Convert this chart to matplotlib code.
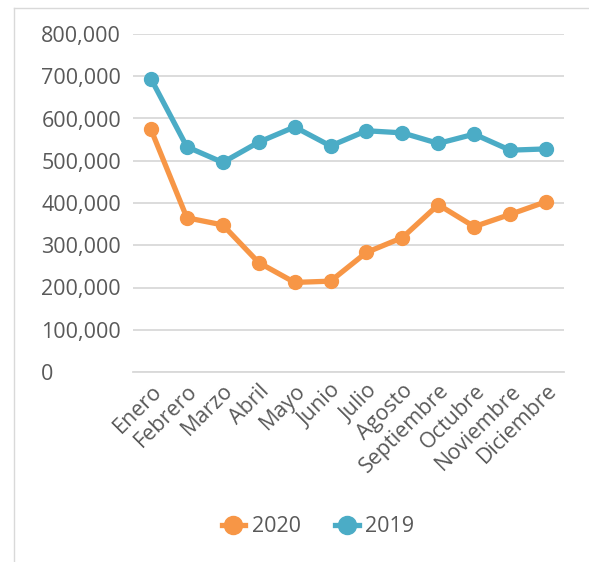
import matplotlib
matplotlib.use("Agg")
import matplotlib.pyplot as plt
from matplotlib.lines import Line2D
from matplotlib.ticker import FuncFormatter

plt.rcParams["font.family"] = ["Open Sans", "DejaVu Sans"]

meses = ["Enero", "Febrero", "Marzo", "Abril", "Mayo", "Junio", "Julio",
         "Agosto", "Septiembre", "Octubre", "Noviembre", "Diciembre"]
v2020 = [574000, 365000, 348000, 259000, 212000, 215000, 283000,
         318000, 396000, 344000, 373000, 403000]
v2019 = [694000, 533000, 496000, 544000, 580000, 535000, 571000,
         566000, 541000, 563000, 525000, 528000]

NARANJA = "#F79646"
AZUL = "#4BACC6"
GRIS = "#595959"

fig = plt.figure(figsize=(5.89, 5.62), dpi=100)
ax = fig.add_axes([133 / 589, 1 - 372 / 562, (564 - 133) / 589, (372 - 34) / 562])

x = range(len(meses))
ax.plot(x, v2020, color=NARANJA, lw=3.8, marker="o", ms=10, label="2020", zorder=3)
ax.plot(x, v2019, color=AZUL, lw=3.8, marker="o", ms=10, label="2019", zorder=3)

ax.set_xlim(-0.5, len(meses) - 0.5)
ax.set_ylim(0, 800000)
ax.set_yticks(range(0, 800001, 100000))
ax.yaxis.set_major_formatter(FuncFormatter(lambda v, p: f"{int(v):,}"))
ax.grid(axis="y", color="#d9d9d9", lw=1.3)
ax.set_axisbelow(True)
for s in ["top", "right", "left"]:
    ax.spines[s].set_visible(False)
ax.spines["bottom"].set_color("#d9d9d9")
ax.spines["bottom"].set_linewidth(1.3)
ax.tick_params(axis="both", length=0, colors=GRIS, labelsize=15.5)
ax.tick_params(axis="x", pad=6)
ax.set_xticks(list(x))
ax.set_xticklabels(meses, rotation=45, ha="right", rotation_mode="anchor")
for lbl in ax.get_yticklabels():
    lbl.set_horizontalalignment("left")
ax.tick_params(axis="y", pad=66)

handles = [Line2D([], [], color=NARANJA, lw=3.8, marker="o", ms=13),
           Line2D([], [], color=AZUL, lw=3.8, marker="o", ms=13)]
fig.legend(handles, ["2020", "2019"], loc="center", bbox_to_anchor=(0.54, 1 - 527 / 562),
           ncol=2, frameon=False, fontsize=15.5, labelcolor=GRIS,
           handlelength=1.1, columnspacing=1.6, handletextpad=0.3)

# chart border (only top and left visible in the crop)
fig.add_artist(Line2D([14 / 589, 14 / 589], [0, 1 - 8 / 562], transform=fig.transFigure,
                      color="#d9d9d9", lw=1))
fig.add_artist(Line2D([14 / 589, 1], [1 - 8 / 562, 1 - 8 / 562], transform=fig.transFigure,
                      color="#d9d9d9", lw=1))

fig.savefig("out.png", dpi=100)
